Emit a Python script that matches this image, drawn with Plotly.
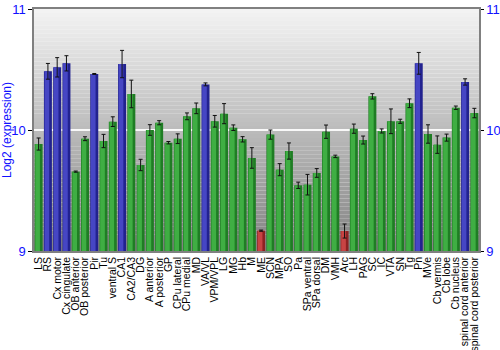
import plotly.graph_objects as go

# Brain regions, mean log2 expression and error (±)
regions = [
    "LS", "RS", "Cx motor", "Cx cingulate", "OB anterior", "OB posterior", "Pir", "Tu",
    "ventral S", "CA1", "CA2/CA3", "DG", "A anterior", "A posterior", "GP", "CPu lateral",
    "CPu medial", "MD", "VA/VL", "VPM/VPL", "LG", "MG", "Hb", "M", "ME", "SCN", "MPA",
    "SO", "Pa", "SPa ventral", "SPa dorsal", "DM", "VMH", "Arc", "LH", "PAG", "SC", "IC",
    "VTA", "SN", "Tg", "Pn", "MVe", "Cb vermis", "Cb lobe", "Cb nucleus",
    "spinal cord anterior", "spinal cord posterior",
]
expression = [
    9.884, 10.485, 10.518, 10.551, 9.656, 9.928, 10.463, 9.909,
    10.069, 10.545, 10.298, 9.711, 10.000, 10.060, 9.895, 9.928,
    10.113, 10.179, 10.377, 10.072, 10.135, 10.019, 9.923, 9.769, 9.168, 9.962, 9.672,
    9.826, 9.543, 9.548, 9.645, 9.986, 9.782, 9.165, 10.011, 9.917, 10.278, 9.992,
    10.072, 10.072, 10.221, 10.551, 9.967, 9.879, 9.937, 10.184,
    10.397, 10.140,
]
error = [
    0.050, 0.065, 0.080, 0.063, 0.005, 0.016, 0.004, 0.055,
    0.040, 0.113, 0.114, 0.047, 0.044, 0.017, 0.010, 0.040,
    0.028, 0.044, 0.012, 0.048, 0.083, 0.023, 0.022, 0.085, 0.005, 0.038, 0.050,
    0.067, 0.026, 0.085, 0.036, 0.055, 0.010, 0.058, 0.038, 0.033, 0.022, 0.017,
    0.102, 0.017, 0.036, 0.090, 0.076, 0.072, 0.029, 0.014,
    0.026, 0.039,
]
# expression class per region: h = high, n = normal, l = low
level = [
    "n", "h", "h", "h", "n", "n", "h", "n",
    "n", "h", "n", "n", "n", "n", "n", "n",
    "n", "n", "h", "n", "n", "n", "n", "n", "l", "n", "n",
    "n", "n", "n", "n", "n", "n", "l", "n", "n", "n", "n",
    "n", "n", "n", "h", "n", "n", "n", "n",
    "h", "n",
]

dark = {"h": "#22228f", "n": "#1f7d24", "l": "#8e2222"}
light = {"h": "#4646c4", "n": "#3fae43", "l": "#c84444"}

y_min, y_max = 9, 11

fig = go.Figure()

# bar body (darker edges)
fig.add_trace(go.Bar(
    x=regions, y=[v - y_min for v in expression], base=y_min,
    width=0.86, marker=dict(color=[dark[c] for c in level], line=dict(width=0)),
    hoverinfo="skip", showlegend=False,
))
# lighter sheen across the bar
fig.add_trace(go.Bar(
    x=regions, y=[v - y_min for v in expression], base=y_min,
    width=0.5, offset=-0.36,
    marker=dict(color=[light[c] for c in level], line=dict(width=0)),
    hoverinfo="skip", showlegend=False,
))
# error bars
fig.add_trace(go.Scatter(
    x=regions, y=expression, mode="markers",
    marker=dict(size=1, color="rgba(0,0,0,0)"),
    error_y=dict(type="data", array=error, color="#111111", thickness=1, width=2),
    showlegend=False,
))
# right-hand axis companion
fig.add_trace(go.Scatter(x=[regions[0]], y=[None], yaxis="y2", showlegend=False))

# vertical grey gradient behind the plot
shapes = []
n = 60
top, bottom = 244, 130
for i in range(n):
    g = round(top + (bottom - top) * (i + 0.5) / n)
    shapes.append(dict(
        type="rect", xref="paper", yref="paper", x0=0, x1=1,
        y0=1 - (i + 1) / n, y1=1 - i / n,
        fillcolor=f"rgb({g},{g},{g})", line=dict(width=0), layer="below",
    ))

blue = "#1010ff"
fig.update_layout(
    width=500, height=350,
    margin=dict(l=34, r=21, t=9, b=99),
    paper_bgcolor="white", plot_bgcolor="white",
    barmode="overlay", bargap=0.12,
    font=dict(family="Liberation Sans, Arial, sans-serif", color="black"),
    shapes=shapes,
    xaxis=dict(
        type="category", tickangle=-90, tickfont=dict(size=10.5, color="black"),
        tickmode="array", tickvals=regions, ticktext=regions,
        showline=True, linecolor="#808080", linewidth=1.5, mirror=True,
        ticks="", showgrid=False, range=[-0.5, len(regions) - 0.5],
        automargin=False,
    ),
    yaxis=dict(
        range=[y_min, y_max], tickvals=[9, 10, 11],
        tickfont=dict(size=13, color=blue),
        title=dict(text="Log2 (expression)", font=dict(size=12, color=blue), standoff=2),
        showline=True, linecolor="#808080", linewidth=1.5,
        ticks="outside", ticklen=4, tickcolor="black",
        showgrid=True, gridcolor="rgba(255,255,255,0.9)", gridwidth=1.5,
        zeroline=False, automargin=False,
    ),
    yaxis2=dict(
        range=[y_min, y_max], tickvals=[9, 10, 11], overlaying="y", side="right",
        tickfont=dict(size=13, color=blue),
        showline=True, linecolor="#808080", linewidth=1.5,
        ticks="outside", ticklen=3, tickcolor="black", ticklabelstandoff=0,
        showgrid=False, zeroline=False, automargin=False,
    ),
)

fig.write_html("out.html")
